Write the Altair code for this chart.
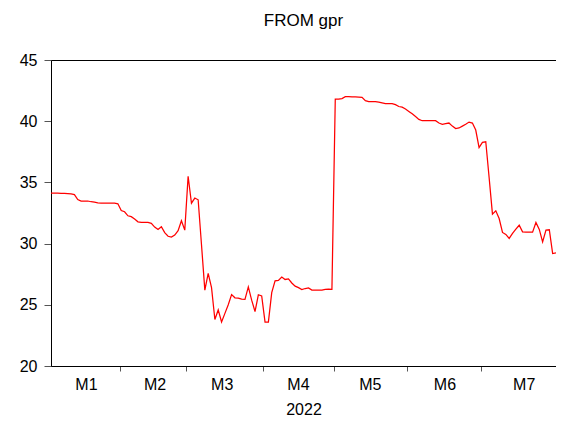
import altair as alt
import pandas as pd

FONT = "Liberation Sans"

months = ["M1", "M2", "M3", "M4", "M5", "M6", "M7"]

m1 = [34.12, 34.12, 34.12, 34.1, 34.1, 34.08, 34.06, 34.0, 33.6, 33.47, 33.47,
      33.48, 33.42, 33.38, 33.33, 33.3, 33.3, 33.3, 33.3, 33.3, 33.25]
m2 = [32.7, 32.6, 32.27, 32.2, 32.0, 31.78, 31.73, 31.73, 31.73, 31.65, 31.35,
      31.16, 31.38, 30.9, 30.6, 30.53, 30.7, 31.05, 31.87, 31.1]
m3 = [35.5, 33.3, 33.72, 33.58, 29.9, 26.2, 27.56, 26.4, 23.8, 24.58, 23.6, 24.3,
      25.0, 25.83, 25.57, 25.55, 25.46, 25.45, 26.46, 25.38, 24.45, 25.82, 25.73]
m4 = [23.58, 23.58, 26.0, 26.96, 27.0, 27.27, 27.07, 27.12, 26.78, 26.52, 26.4,
      26.25, 26.33, 26.38, 26.2, 26.2, 26.2, 26.2, 26.26, 26.28, 26.26]
m5 = [41.8, 41.8, 41.85, 42.0, 42.0, 41.98, 41.98, 41.97, 41.95, 41.68, 41.6,
      41.6, 41.6, 41.55, 41.5, 41.43, 41.43, 41.43, 41.35, 41.2, 41.15, 41.0]
m6 = [40.8, 40.6, 40.38, 40.15, 40.04, 40.04, 40.04, 40.04, 40.04, 39.85, 39.75,
      39.8, 39.85, 39.6, 39.4, 39.45, 39.6, 39.75, 39.93, 39.85, 39.28, 37.85]
m7 = [38.27, 38.32, 35.4, 32.41, 32.68, 32.05, 30.91, 30.75, 30.42, 30.83, 31.18,
      31.5, 30.96, 30.94, 30.94, 30.94, 31.73, 31.16, 30.14, 31.1, 31.13, 29.19, 29.24]

series = [m1, m2, m3, m4, m5, m6, m7]
month_label_pos = [10.6, 31.1, 51.2, 74.0, 95.5, 117.8, 141.5]
y_ticks = [20, 25, 30, 35, 40, 45]

values = [v for s in series for v in s]
df = pd.DataFrame({"i": list(range(len(values))), "v": values})

bounds = []
c = 0
for s in series[:-1]:
    c += len(s)
    bounds.append(c - 0.5)
xmax = len(values) - 1
tick_vals = bounds + [xmax]

W, H = 505, 306
xscale = alt.Scale(domain=[0, xmax], nice=False, zero=False)
xaxis = alt.Axis(values=tick_vals, labels=False, grid=False, tickSize=5,
                 title="2022", titlePadding=30)

line = alt.Chart(df).mark_line(color="#ff0000", strokeWidth=1.25).encode(
    x=alt.X("i:Q", scale=xscale, axis=xaxis),
    y=alt.Y("v:Q", scale=alt.Scale(domain=[20, 45], nice=False, zero=False),
            axis=alt.Axis(values=y_ticks, grid=False, tickSize=7, labelPadding=7,
                          title=None)),
)

lab_df = pd.DataFrame({"m": months, "p": month_label_pos})
text = alt.Chart(lab_df).mark_text(fontSize=16, font=FONT, baseline="middle",
                                   color="black").encode(
    x=alt.X("p:Q", scale=xscale, axis=xaxis),
    y=alt.value(H + 19),
    text="m:N",
)

chart = alt.layer(line, text).properties(
    width=W, height=H,
    title=alt.TitleParams("FROM gpr", fontSize=17, font=FONT, fontWeight="normal",
                          anchor="middle", offset=22, color="black"),
    padding={"left": 43, "top": 52, "right": 0, "bottom": 58},
    autosize=alt.AutoSizeParams(type="none"),
).configure_view(stroke="black", strokeWidth=1).configure_axis(
    labelFont=FONT, labelFontSize=16, labelColor="black",
    titleFont=FONT, titleFontSize=16, titleFontWeight="normal", titleColor="black",
    domainColor="black", tickColor="#555555", domainWidth=1,
)

chart.save("out.html", embed_options={"renderer": "svg", "actions": False})
